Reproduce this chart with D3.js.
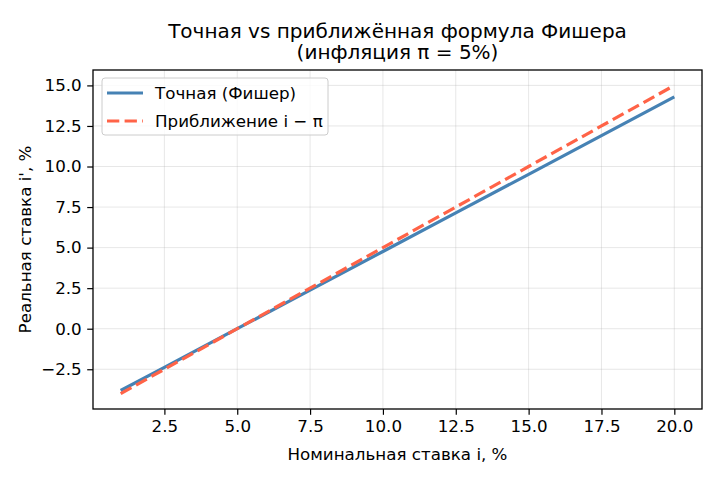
<!DOCTYPE html>
<html>
<head>
<meta charset="utf-8">
<script src="https://cdn.jsdelivr.net/npm/d3@7"></script>
<style>
  body { margin: 0; background: #fff; }
  text { font-family: "DejaVu Sans", sans-serif; }
</style>
</head>
<body>
<div id="chart"></div>
<script>
const nominal = [1, 2.5, 5, 7.5, 10, 12.5, 15, 17.5, 20];
const exactReal = [-3.81, -2.38, 0, 2.38, 4.76, 7.14, 9.52, 11.90, 14.29];
const approxReal = [-4, -2.5, 0, 2.5, 5, 7.5, 10, 12.5, 15];

const xTicks = [2.5, 5.0, 7.5, 10.0, 12.5, 15.0, 17.5, 20.0];
const yTicks = [-2.5, 0.0, 2.5, 5.0, 7.5, 10.0, 12.5, 15.0];

const seriesNames = ["Точная (Фишер)", "Приближение i − π"];
const titleLines = ["Точная vs приближённая формула Фишера", "(инфляция π = 5%)"];
const xLabel = "Номинальная ставка i, %";
const yLabel = "Реальная ставка i', %";

const width = 720, height = 480;
const margin = { top: 70, right: 18, bottom: 71, left: 93 };
const fs = 16.7;   // 10pt at dpi 120
const lw = 3.2;
const dash = "12.3,5.3";

const svg = d3.select("#chart").append("svg")
    .attr("width", width)
    .attr("height", height);

const xScale = d3.scaleLinear()
    .domain([0.05, 20.95])
    .range([margin.left, width - margin.right]);

const yScale = d3.scaleLinear()
    .domain([-4.95, 15.95])
    .range([height - margin.bottom, margin.top]);

const fmt = v => d3.format(".1f")(v).replace("-", "−");

// grid
svg.append("g").selectAll("line").data(xTicks).join("line")
    .attr("x1", d => xScale(d)).attr("x2", d => xScale(d))
    .attr("y1", margin.top).attr("y2", height - margin.bottom)
    .attr("stroke", "#b0b0b0").attr("stroke-opacity", 0.3).attr("stroke-width", 1);
svg.append("g").selectAll("line").data(yTicks).join("line")
    .attr("x1", margin.left).attr("x2", width - margin.right)
    .attr("y1", d => yScale(d)).attr("y2", d => yScale(d))
    .attr("stroke", "#b0b0b0").attr("stroke-opacity", 0.3).attr("stroke-width", 1);

// axes
const xAxis = svg.append("g")
    .attr("transform", `translate(0, ${height - margin.bottom})`)
    .call(d3.axisBottom(xScale).tickValues(xTicks).tickFormat(fmt).tickSize(5.8).tickPadding(5.5));
const yAxis = svg.append("g")
    .attr("transform", `translate(${margin.left}, 0)`)
    .call(d3.axisLeft(yScale).tickValues(yTicks).tickFormat(fmt).tickSize(5.8).tickPadding(5.5));
[xAxis, yAxis].forEach(a => {
    a.attr("font-size", fs).attr("font-family", "DejaVu Sans");
    a.select(".domain").remove();
    a.selectAll(".tick line").attr("stroke", "#000").attr("stroke-width", 1.2);
    a.selectAll(".tick text").attr("fill", "#000");
});

// lines
const line = (ys) => d3.line()
    .x((d, k) => xScale(nominal[k]))
    .y(d => yScale(d))(ys);

svg.append("path")
    .attr("d", line(exactReal))
    .attr("fill", "none")
    .attr("stroke", "#4682b4")
    .attr("stroke-width", lw);

svg.append("path")
    .attr("d", line(approxReal))
    .attr("fill", "none")
    .attr("stroke", "#ff6347")
    .attr("stroke-width", lw)
    .attr("stroke-dasharray", dash);

// frame
svg.append("rect")
    .attr("x", margin.left).attr("y", margin.top)
    .attr("width", width - margin.left - margin.right)
    .attr("height", height - margin.top - margin.bottom)
    .attr("fill", "none").attr("stroke", "#000").attr("stroke-width", 1.3);

// title
svg.append("text")
    .attr("text-anchor", "middle")
    .attr("font-size", 20)
    .selectAll("tspan").data(titleLines).join("tspan")
    .attr("x", (margin.left + width - margin.right) / 2)
    .attr("y", (d, k) => 38 + k * 20.5)
    .text(d => d);

// axis labels
svg.append("text")
    .attr("x", (margin.left + width - margin.right) / 2)
    .attr("y", 459.5)
    .attr("text-anchor", "middle")
    .attr("font-size", fs)
    .text(xLabel);

svg.append("text")
    .attr("transform", `translate(31, ${(margin.top + height - margin.bottom) / 2}) rotate(-90)`)
    .attr("text-anchor", "middle")
    .attr("font-size", fs)
    .text(yLabel);

// legend
const legend = svg.append("g").attr("transform", "translate(102, 78)");
legend.append("rect")
    .attr("width", 226).attr("height", 57)
    .attr("rx", 3)
    .attr("fill", "#fff").attr("fill-opacity", 0.8)
    .attr("stroke", "#cccccc");
const styles = [
    { color: "#4682b4", dash: null },
    { color: "#ff6347", dash: dash }
];
seriesNames.forEach((name, k) => {
    const yy = 15 + k * 28;
    legend.append("line")
        .attr("x1", 5).attr("x2", 41)
        .attr("y1", yy).attr("y2", yy)
        .attr("stroke", styles[k].color)
        .attr("stroke-width", lw)
        .attr("stroke-dasharray", styles[k].dash);
    legend.append("text")
        .attr("x", 53).attr("y", yy + 6)
        .attr("font-size", fs)
        .text(name);
});
</script>
</body>
</html>
